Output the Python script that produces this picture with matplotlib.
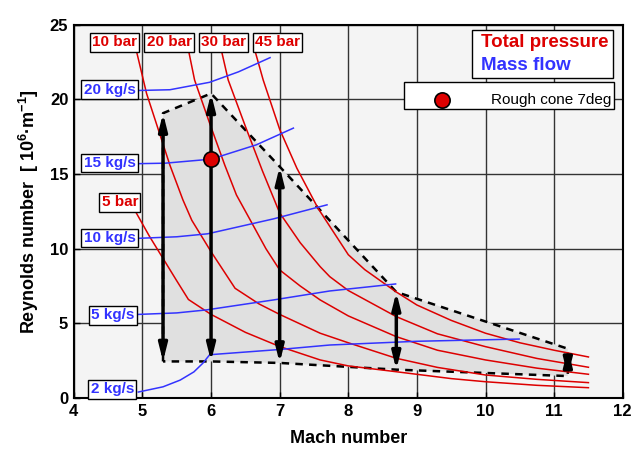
import matplotlib
matplotlib.use("Agg")
import matplotlib.pyplot as plt
from matplotlib.patches import Rectangle, Polygon

plt.rcParams['font.family'] = ['Liberation Sans', 'DejaVu Sans']
plt.rcParams['mathtext.default'] = 'regular'

# Total pressure iso-lines (Mach, Re in 1e6/m)
p5_mach = [4.91, 5.1, 5.3, 5.5, 5.67, 6.0, 6.5, 7.0, 7.59, 8.0, 8.7, 9.5, 10.0, 10.75, 11.5]
p5_re = [12.4, 10.85, 9.35, 7.85, 6.6, 5.6, 4.4, 3.45, 2.55, 2.15, 1.76, 1.3, 1.09, 0.85, 0.69]
p10_mach = [4.92, 5.06, 5.23, 5.4, 5.59, 5.72, 6.0, 6.35, 6.7, 7.0, 7.59, 8.0, 8.7, 9.3, 10.0, 10.75, 11.5]
p10_re = [23.1, 20.4, 18.0, 15.6, 13.27, 11.9, 9.8, 7.35, 6.3, 5.6, 4.34, 3.7, 2.66, 2.05, 1.54, 1.25, 1.03]
p20_mach = [5.68, 5.76, 5.98, 6.2, 6.37, 6.57, 6.8, 7.0, 7.3, 7.59, 8.0, 8.7, 9.3, 10.0, 10.75, 11.5]
p20_re = [23.1, 21.3, 18.4, 15.6, 13.6, 11.93, 10.0, 8.58, 7.5, 6.57, 5.5, 4.11, 3.2, 2.55, 2.0, 1.59]
p30_mach = [6.16, 6.25, 6.5, 6.75, 7.0, 7.3, 7.59, 7.73, 8.0, 8.7, 9.3, 10.0, 10.75, 11.5]
p30_re = [23.1, 21.3, 18.2, 15.2, 12.4, 10.4, 8.8, 8.13, 7.2, 5.45, 4.3, 3.44, 2.65, 2.06]
p45_mach = [6.65, 6.76, 7.0, 7.25, 7.56, 8.0, 8.24, 8.7, 9.0, 9.5, 10.0, 10.5, 11.0, 11.5]
p45_re = [23.1, 21.3, 18.0, 15.4, 12.7, 9.6, 8.6, 7.1, 6.23, 5.2, 4.34, 3.7, 3.2, 2.75]
p_labels = ['5 bar', '10 bar', '20 bar', '30 bar', '45 bar']
p_label_pos = [(4.67, 13.1), (4.59, 23.83), (5.39, 23.83), (6.18, 23.83), (6.97, 23.83)]

# Mass flow iso-lines
m2_mach = [4.94, 5.3, 5.55, 5.75, 5.88, 5.98, 7.0, 7.73, 9.0, 10.49]
m2_re = [0.4, 0.75, 1.2, 1.75, 2.33, 2.9, 3.25, 3.55, 3.8, 3.95]
m5_mach = [4.94, 5.5, 5.93, 6.91, 7.73, 8.69]
m5_re = [5.6, 5.7, 5.9, 6.57, 7.17, 7.64]
m10_mach = [4.96, 5.5, 5.95, 6.91, 7.69]
m10_re = [10.7, 10.8, 11.0, 12.0, 12.94]
m15_mach = [4.96, 5.33, 6.0, 6.66, 7.2]
m15_re = [15.7, 15.73, 16.0, 16.96, 18.08]
m20_mach = [4.94, 5.4, 5.98, 6.4, 6.86]
m20_re = [20.6, 20.65, 21.15, 21.85, 22.8]
m_labels = ['2 kg/s', '5 kg/s', '10 kg/s', '15 kg/s', '20 kg/s']
m_label_pos = [(4.56, 0.57), (4.57, 5.53), (4.52, 10.72), (4.52, 15.75), (4.52, 20.66)]

# Operating envelope
env_mach = [5.3, 5.3, 6.0, 7.0, 8.7, 11.2, 11.2, 8.7, 7.0, 6.0]
env_re = [2.45, 19.08, 20.4, 15.5, 7.1, 3.3, 1.47, 1.9, 2.35, 2.45]

# Reynolds range at each tested Mach number
arrow_mach = [5.3, 6.0, 7.0, 8.7, 11.2]
arrow_lo = [2.45, 2.45, 2.35, 1.9, 1.47]
arrow_hi = [19.08, 20.4, 15.5, 7.1, 3.3]

# Test point
cone_mach = [6.0]
cone_re = [16.0]

red = '#dd0000'
blue = '#3333ff'

fig = plt.figure(figsize=(6.42, 4.51), dpi=100)
ax = fig.add_axes([0.115, 0.1175, 0.855, 0.8275])
ax.set_facecolor('#f4f4f4')
ax.set_xlim(4, 12)
ax.set_ylim(0, 25)
ax.set_xticks(range(4, 13))
ax.set_yticks(range(0, 26, 5))
ax.grid(True, color='#333333', lw=1.0, zorder=1)
ax.tick_params(direction='in', length=4, labelsize=12, width=1, pad=4)
for lab in ax.get_xticklabels() + ax.get_yticklabels():
    lab.set_fontweight('bold')
for sp in ax.spines.values():
    sp.set_linewidth(1.5)

ax.add_patch(Polygon(list(zip(env_mach, env_re)), closed=True, fc='#e0e0e0',
                     ec='none', zorder=2))
ax.plot(env_mach + env_mach[:1], env_re + env_re[:1], color='black', lw=1.8,
        ls=(0, (3, 2.5)), zorder=3)

p_curves = [(p5_mach, p5_re), (p10_mach, p10_re), (p20_mach, p20_re),
            (p30_mach, p30_re), (p45_mach, p45_re)]
for (mx, rx), lab, pos in zip(p_curves, p_labels, p_label_pos):
    ax.plot(mx, rx, color=red, lw=1.1, zorder=4)
    ax.text(pos[0], pos[1], lab, color=red, fontsize=11, fontweight='bold',
            ha='center', va='center', zorder=8,
            bbox=dict(boxstyle='square,pad=0.15', fc='white', ec='black', lw=1))

m_curves = [(m2_mach, m2_re), (m5_mach, m5_re), (m10_mach, m10_re),
            (m15_mach, m15_re), (m20_mach, m20_re)]
for (mx, rx), lab, pos in zip(m_curves, m_labels, m_label_pos):
    ax.plot(mx, rx, color=blue, lw=1.1, zorder=4)
    ax.text(pos[0], pos[1], lab, color=blue, fontsize=11, fontweight='bold',
            ha='center', va='center', zorder=8,
            bbox=dict(boxstyle='square,pad=0.15', fc='white', ec='black', lw=1))

for x, lo, hi in zip(arrow_mach, arrow_lo, arrow_hi):
    ax.annotate('', xy=(x, hi), xytext=(x, lo), zorder=6,
                arrowprops=dict(arrowstyle='<|-|>,head_length=1.0,head_width=0.25',
                                lw=2.5, color='black', shrinkA=0, shrinkB=0))

ax.plot(cone_mach, cone_re, 'o', ms=11, mfc='#dd0000', mec='black', mew=1.2, zorder=9)

# Legend boxes
ax.add_patch(Rectangle((9.81, 21.43), 2.05, 3.19, fc='white', ec='black', lw=1, zorder=8))
ax.text(9.94, 23.81, 'Total pressure', color=red, fontsize=13.5, fontweight='bold',
        ha='left', va='center', zorder=9)
ax.text(9.94, 22.27, 'Mass flow', color=blue, fontsize=13.5, fontweight='bold',
        ha='left', va='center', zorder=9)
ax.add_patch(Rectangle((8.81, 19.35), 3.06, 1.81, fc='white', ec='black', lw=1, zorder=8))
ax.plot([9.36], [19.97], 'o', ms=11, mfc='#dd0000', mec='black', mew=1.2, zorder=9)
ax.text(11.84, 19.97, 'Rough cone 7deg', color='black', fontsize=11,
        ha='right', va='center', zorder=9)

ax.set_xlabel('Mach number', fontsize=13, fontweight='bold', labelpad=8)
ax.set_ylabel('Reynolds number  [ 10$^{6}$·m$^{-1}$]', fontsize=13, fontweight='bold',
              labelpad=6)

fig.savefig('out.png', dpi=100)
